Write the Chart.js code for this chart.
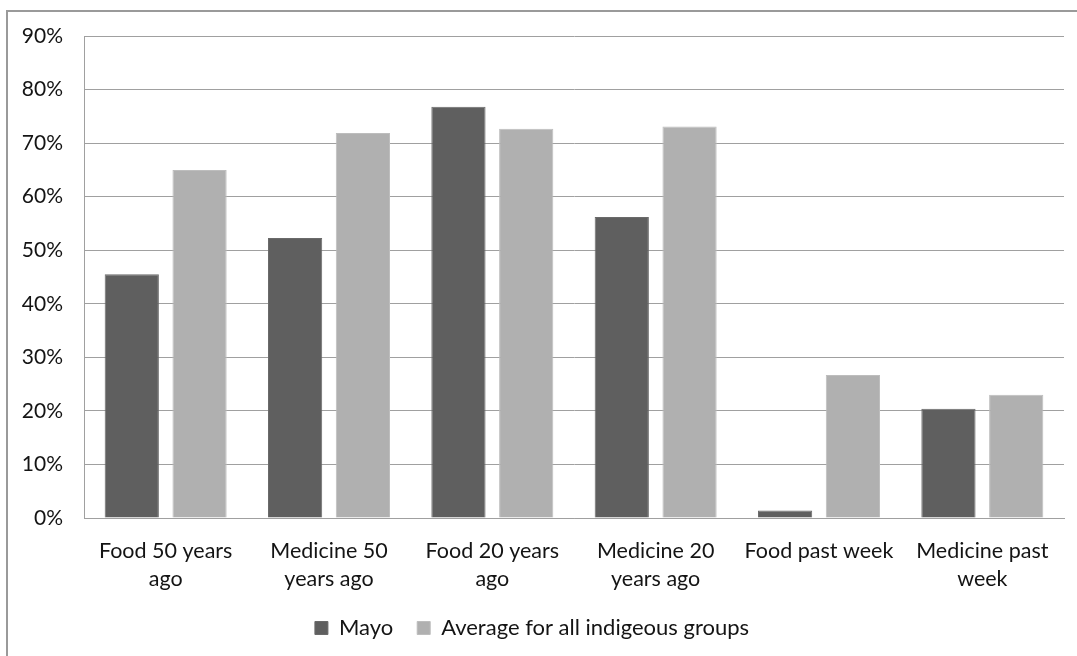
<!DOCTYPE html>
<html>
<head>
<meta charset="utf-8">
<script src="https://cdn.jsdelivr.net/npm/chart.js@4/dist/chart.umd.min.js"></script>
<style>
  html, body { margin: 0; padding: 0; background: #ffffff; }
  #wrap { position: relative; width: 1077px; height: 656px; overflow: hidden; }
  #frame { position: absolute; left: 6px; top: 10px; width: 1200px; height: 800px;
           border-left: 2px solid #9a9a9a; border-top: 2px solid #9a9a9a; box-sizing: border-box; }
  canvas { position: absolute; left: 0; top: 0; }
</style>
</head>
<body>
<div id="wrap">
  <div id="frame"></div>
  <canvas id="chart" width="1077" height="656"></canvas>
</div>
<script>
// Share of respondents using wild plants, by use and period
const categories = [
  ['Food 50 years', 'ago'],
  ['Medicine 50', 'years ago'],
  ['Food 20 years', 'ago'],
  ['Medicine 20', 'years ago'],
  'Food past week',
  ['Medicine past', 'week']
];
const seriesNames = ['Mayo', 'Average for all indigeous groups'];
const mayo = [45.5, 52.3, 76.8, 56.2, 1.4, 20.4];
const allGroups = [65.0, 71.9, 72.7, 73.1, 26.7, 23.0];
const yTicks = [0, 10, 20, 30, 40, 50, 60, 70, 80, 90];

const fontFamily = 'Lato, "Open Sans", sans-serif';
const textColor = '#141414';

new Chart(document.getElementById('chart'), {
  type: 'bar',
  data: {
    labels: categories,
    datasets: [
      { label: seriesNames[0], data: mayo, backgroundColor: '#5f5f5f', borderColor: '#6a6a6a', borderWidth: 1 },
      { label: seriesNames[1], data: allGroups, backgroundColor: '#b0b0b0', borderColor: '#bdbdbd', borderWidth: 1 }
    ]
  },
  options: {
    responsive: false,
    animation: false,
    categoryPercentage: 0.83,
    barPercentage: 0.8,
    layout: { padding: { top: 36, right: 13, bottom: 7, left: 0 } },
    plugins: {
      tooltip: { enabled: false },
      legend: {
        position: 'bottom',
        labels: {
          color: textColor,
          font: { family: fontFamily, size: 22 },
          boxWidth: 13,
          boxHeight: 13,
          padding: 24
        }
      }
    },
    scales: {
      x: {
        afterFit: (scale) => { scale.height = 75; },
        grid: { display: false, drawTicks: false },
        border: { color: '#a0a0a0', width: 1 },
        ticks: {
          color: textColor,
          font: { family: fontFamily, size: 21.5, lineHeight: 1.3 },
          padding: 19,
          maxRotation: 0,
          autoSkip: false
        }
      },
      y: {
        min: 0,
        max: 90,
        afterBuildTicks: (scale) => { scale.ticks = yTicks.map(v => ({ value: v })); },
        afterFit: (scale) => { scale.width = 84; },
        grid: { color: '#a0a0a0', lineWidth: 1, drawTicks: false },
        border: { color: '#a0a0a0', width: 1 },
        ticks: {
          color: textColor,
          font: { family: fontFamily, size: 21 },
          padding: 21,
          callback: (v) => v + '%'
        }
      }
    }
  }
});
</script>
</body>
</html>
